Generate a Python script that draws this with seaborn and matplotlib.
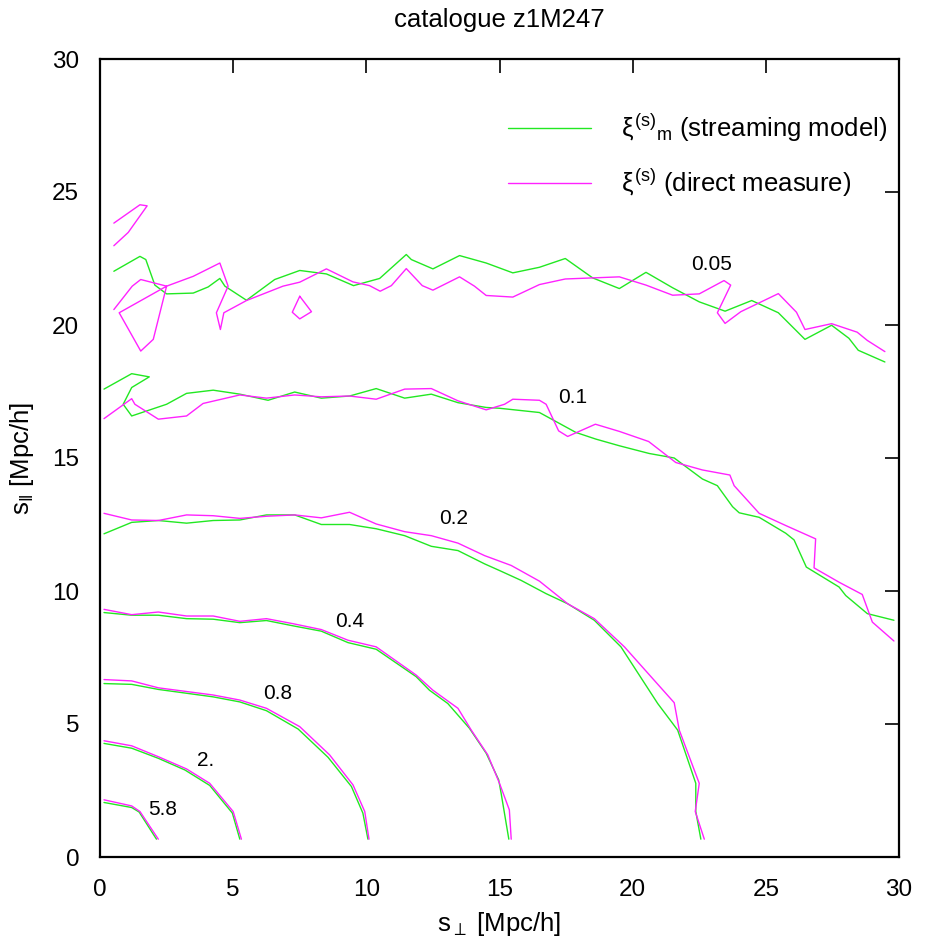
import matplotlib
matplotlib.use("Agg")
import matplotlib.pyplot as plt
from matplotlib.lines import Line2D
import seaborn as sns

# ---------------- data ----------------
# contour xi = 5.8
c58_model_x = [0.15, 1.19, 1.47, 2.12]
c58_model_y = [2.05, 1.86, 1.69, 0.67]
c58_meas_x = [0.15, 1.19, 1.50, 2.19]
c58_meas_y = [2.15, 1.92, 1.71, 0.67]

# contour xi = 2.
c2_model_x = [0.15, 1.19, 2.19, 3.19, 4.12, 4.97, 5.25]
c2_model_y = [4.27, 4.09, 3.71, 3.27, 2.69, 1.65, 0.67]
c2_meas_x = [0.15, 1.19, 2.19, 3.25, 4.12, 5.00, 5.31]
c2_meas_y = [4.37, 4.18, 3.77, 3.31, 2.77, 1.71, 0.67]

# contour xi = 0.8
c08_model_x = [0.15, 1.19, 2.19, 4.25, 5.25, 6.25, 7.44, 8.56, 9.44, 9.87, 10.06]
c08_model_y = [6.52, 6.49, 6.30, 6.02, 5.83, 5.50, 4.81, 3.75, 2.65, 1.65, 0.67]
c08_meas_x = [0.15, 1.19, 2.19, 4.25, 5.25, 6.25, 7.50, 8.62, 9.50, 9.94, 10.10]
c08_meas_y = [6.67, 6.62, 6.36, 6.09, 5.90, 5.59, 4.90, 3.84, 2.71, 1.71, 0.67]

# contour xi = 0.4
c04_model_x = [0.15, 1.19, 2.19, 3.25, 4.25, 5.25, 6.25, 7.25, 8.31, 9.31, 10.37,
               11.87, 12.37, 13.06, 13.87, 14.50, 14.97, 15.06, 15.35]
c04_model_y = [9.19, 9.09, 9.09, 8.96, 8.94, 8.81, 8.89, 8.69, 8.49, 8.06, 7.81,
               6.78, 6.27, 5.77, 4.84, 3.90, 2.90, 2.40, 0.67]
c04_meas_x = [0.15, 1.19, 2.19, 3.25, 4.25, 5.25, 6.25, 7.25, 8.31, 9.31, 10.37,
              11.87, 12.50, 13.44, 13.94, 14.56, 15.00, 15.37, 15.44]
c04_meas_y = [9.31, 9.11, 9.21, 9.06, 9.06, 8.86, 8.96, 8.77, 8.55, 8.15, 7.90,
              6.84, 6.27, 5.59, 4.77, 3.84, 2.77, 1.77, 0.67]

# contour xi = 0.2
c02_model_x = [0.15, 1.19, 2.19, 3.25, 4.25, 5.25, 6.25, 7.31, 8.31, 9.37, 10.37,
               11.44, 12.44, 13.44, 14.44, 15.00, 15.81, 16.75, 17.56, 18.56, 19.56,
               20.94, 21.69, 22.37, 22.37, 22.56]
c02_model_y = [12.15, 12.58, 12.65, 12.55, 12.65, 12.67, 12.86, 12.86, 12.50, 12.50, 12.34,
               12.08, 11.68, 11.52, 11.02, 10.77, 10.40, 9.90, 9.52, 8.90, 7.90,
               5.77, 4.77, 2.77, 1.71, 0.67]
c02_meas_x = [0.15, 1.19, 2.19, 3.25, 4.25, 5.25, 6.25, 7.31, 8.31, 9.37, 10.37,
              11.44, 12.44, 13.44, 14.44, 15.44, 16.50, 17.56, 18.56, 19.69, 21.56,
              21.75, 22.50, 22.35, 22.69]
c02_meas_y = [12.92, 12.67, 12.65, 12.86, 12.83, 12.73, 12.81, 12.86, 12.75, 12.96, 12.52,
              12.23, 12.08, 11.80, 11.33, 10.96, 10.37, 9.52, 8.96, 7.90, 5.80,
              4.77, 2.77, 1.71, 0.67]

# contour xi = 0.1
c01_model_x = [0.15, 1.19, 1.85, 1.19, 0.87, 1.19, 2.50, 3.25, 4.25, 5.25, 6.31, 7.31,
               8.31, 9.37, 10.37, 11.44, 12.44, 13.44, 14.50, 15.00, 16.50, 17.87, 18.62,
               19.50, 20.62, 21.56, 22.62, 23.18, 23.75, 24.00, 24.75, 25.75, 26.06,
               26.52, 27.75, 28.00, 28.81, 29.81]
c01_model_y = [17.59, 18.17, 18.05, 17.65, 17.02, 16.58, 17.02, 17.43, 17.55, 17.40, 17.17, 17.48,
               17.25, 17.33, 17.61, 17.25, 17.40, 17.08, 16.90, 16.87, 16.71, 15.96, 15.71,
               15.46, 15.17, 15.00, 14.21, 13.96, 13.17, 12.94, 12.77, 12.17, 11.92,
               10.90, 10.15, 9.83, 9.15, 8.90]
c01_meas_x = [0.15, 1.19, 1.31, 2.19, 3.25, 3.87, 5.25, 6.25, 7.31, 8.31, 9.37, 10.37,
              11.44, 12.44, 13.44, 14.50, 15.19, 15.50, 16.50, 16.75, 17.22, 17.56,
              18.60, 19.50, 20.60, 21.62, 22.62, 23.65, 23.81, 24.75, 25.75, 26.87,
              26.81, 27.75, 28.62, 29.00, 29.81]
c01_meas_y = [16.48, 17.23, 17.02, 16.46, 16.58, 17.05, 17.37, 17.25, 17.37, 17.30, 17.33, 17.21,
              17.59, 17.61, 17.15, 16.81, 17.02, 17.21, 17.17, 17.02, 16.02, 15.81,
              16.27, 16.00, 15.62, 14.83, 14.55, 14.36, 13.96, 12.92, 12.46, 11.96,
              10.87, 10.33, 9.87, 8.83, 8.12]

# contour xi = 0.05
c005_model_x = [0.52, 1.50, 1.72, 2.06, 2.50, 3.50, 4.06, 4.50, 4.69, 5.50, 6.56, 7.50,
                8.50, 9.52, 10.50, 11.50, 11.69, 12.50, 13.50, 14.50, 15.50, 16.50,
                17.47, 18.50, 19.50, 20.50, 21.50, 22.50, 23.47, 24.47, 25.47, 26.47,
                27.47, 28.12, 28.47, 29.47]
c005_model_y = [22.02, 22.58, 22.46, 21.50, 21.17, 21.20, 21.43, 21.75, 21.46, 20.93, 21.71, 22.05,
                21.92, 21.48, 21.75, 22.65, 22.46, 22.11, 22.61, 22.33, 21.96, 22.17,
                22.50, 21.77, 21.37, 21.98, 21.40, 20.87, 20.52, 20.92, 20.46, 19.46,
                19.99, 19.50, 19.05, 18.61]
c005_meas_x = [0.52, 1.21, 1.53, 2.50, 3.50, 4.50, 4.81, 4.37, 4.52, 4.65, 5.50, 6.87,
               7.50, 8.50, 9.50, 10.12, 10.52, 10.94, 11.50, 12.10, 12.50, 13.50, 14.06,
               14.50, 15.50, 16.50, 17.47, 19.50, 20.50, 21.50, 22.50, 23.43, 23.68,
               23.18, 23.47, 24.06, 25.47, 26.15, 26.47, 27.47, 28.43, 28.81, 29.47]
c005_meas_y = [20.58, 21.46, 21.71, 21.46, 21.83, 22.33, 21.46, 20.46, 19.83, 20.46, 20.92, 21.46,
               21.61, 22.11, 21.62, 21.48, 21.27, 21.48, 22.12, 21.48, 21.31, 21.81, 21.46,
               21.11, 21.05, 21.52, 21.73, 21.81, 21.50, 21.12, 21.17, 21.67, 21.50,
               20.46, 20.06, 20.50, 21.18, 20.48, 19.83, 20.05, 19.73, 19.42, 19.00]
c005_meas_loop_x = [2.50, 2.00, 1.53, 0.72, 2.50]
c005_meas_loop_y = [21.46, 19.46, 19.02, 20.46, 21.46]
c005_meas_top_x = [0.52, 1.50, 1.77, 1.06, 0.52]
c005_meas_top_y = [23.83, 24.52, 24.48, 23.48, 22.98]
c005_meas_island_x = [7.50, 7.94, 7.50, 7.22, 7.50]
c005_meas_island_y = [21.08, 20.50, 20.23, 20.48, 21.08]

# contour level labels
label_text = ["0.05", "0.1", "0.2", "0.4", "0.8", "2.", "5.8"]
label_x = [22.98, 17.76, 13.26, 9.39, 6.68, 3.96, 2.37]
label_y = [22.27, 17.29, 12.73, 8.87, 6.14, 3.61, 1.80]

tick_values = [0, 5, 10, 15, 20, 25, 30]

# ---------------- style ----------------
sns.set_style("white")
plt.rcParams["font.family"] = ["Liberation Sans", "DejaVu Sans"]
plt.rcParams["mathtext.fontset"] = "custom"
plt.rcParams["mathtext.rm"] = "Liberation Sans"
plt.rcParams["mathtext.it"] = "Liberation Sans"
plt.rcParams["mathtext.bf"] = "Liberation Sans:bold"
plt.rcParams["text.color"] = "black"
plt.rcParams["axes.labelcolor"] = "black"

GREEN = "#22e822"
MAGENTA = "#ff22ff"
LW = 1.0
FS_TICK = 17.5
FS_TEXT = 18.5

fig = plt.figure(figsize=(9.27, 9.51), dpi=100)
ax = fig.add_axes([100 / 927, 1 - 857 / 951, 799 / 927, 798 / 951])

model_pieces = [
    (c58_model_x, c58_model_y), (c2_model_x, c2_model_y), (c08_model_x, c08_model_y),
    (c04_model_x, c04_model_y), (c02_model_x, c02_model_y), (c01_model_x, c01_model_y),
    (c005_model_x, c005_model_y),
]
meas_pieces = [
    (c58_meas_x, c58_meas_y), (c2_meas_x, c2_meas_y), (c08_meas_x, c08_meas_y),
    (c04_meas_x, c04_meas_y), (c02_meas_x, c02_meas_y), (c01_meas_x, c01_meas_y),
    (c005_meas_x, c005_meas_y), (c005_meas_loop_x, c005_meas_loop_y),
    (c005_meas_top_x, c005_meas_top_y), (c005_meas_island_x, c005_meas_island_y),
]

for xs, ys in model_pieces:
    sns.lineplot(x=xs, y=ys, sort=False, estimator=None, color=GREEN,
                 linewidth=LW, ax=ax, legend=False)
for xs, ys in meas_pieces:
    sns.lineplot(x=xs, y=ys, sort=False, estimator=None, color=MAGENTA,
                 linewidth=LW, ax=ax, legend=False)

for t, x, y in zip(label_text, label_x, label_y):
    ax.text(x, y, t, ha="center", va="center", fontsize=15, color="black")

ax.set_xlim(0, 30)
ax.set_ylim(0, 30)
ax.set_xticks(tick_values)
ax.set_yticks(tick_values)
ax.set_xticklabels([str(v) for v in tick_values])
ax.set_yticklabels([str(v) for v in tick_values])
ax.tick_params(axis="both", which="major", direction="in", length=10, width=1.2,
               top=True, right=True, labelsize=FS_TICK, colors="black")
ax.tick_params(axis="x", pad=16)
ax.tick_params(axis="y", pad=15)
for s in ax.spines.values():
    s.set_visible(True)
    s.set_linewidth(1.6)
    s.set_color("black")

ax.set_xlabel(r"s$_{\perp}$ [Mpc/h]", fontsize=FS_TEXT)
ax.xaxis.label.set_va("center")
ax.xaxis.set_label_coords(0.5, (857 - 924) / 798)
ax.set_ylabel(r"s$_{\Vert}$ [Mpc/h]", fontsize=FS_TEXT)
ax.yaxis.label.set_va("center")
ax.yaxis.set_label_coords((22 - 100) / 799, 0.5)

fig.text(0.5 * (100 + 899) / 927, 1 - 27 / 951, "catalogue z1M247", ha="center",
         va="baseline", fontsize=FS_TEXT)

handles = [Line2D([], [], color=GREEN, linewidth=LW),
           Line2D([], [], color=MAGENTA, linewidth=LW)]
labels = [r"$\xi^{(s)}{}_{m}$ (streaming model)", r"$\xi^{(s)}$ (direct measure)"]
ax.legend(handles, labels, loc="upper left", bbox_to_anchor=(0.511, 0.934),
          frameon=False, fontsize=FS_TEXT, handlelength=3.2, handletextpad=1.2,
          labelspacing=0.9, borderpad=0, borderaxespad=0)

fig.savefig("out.png", dpi=100)
